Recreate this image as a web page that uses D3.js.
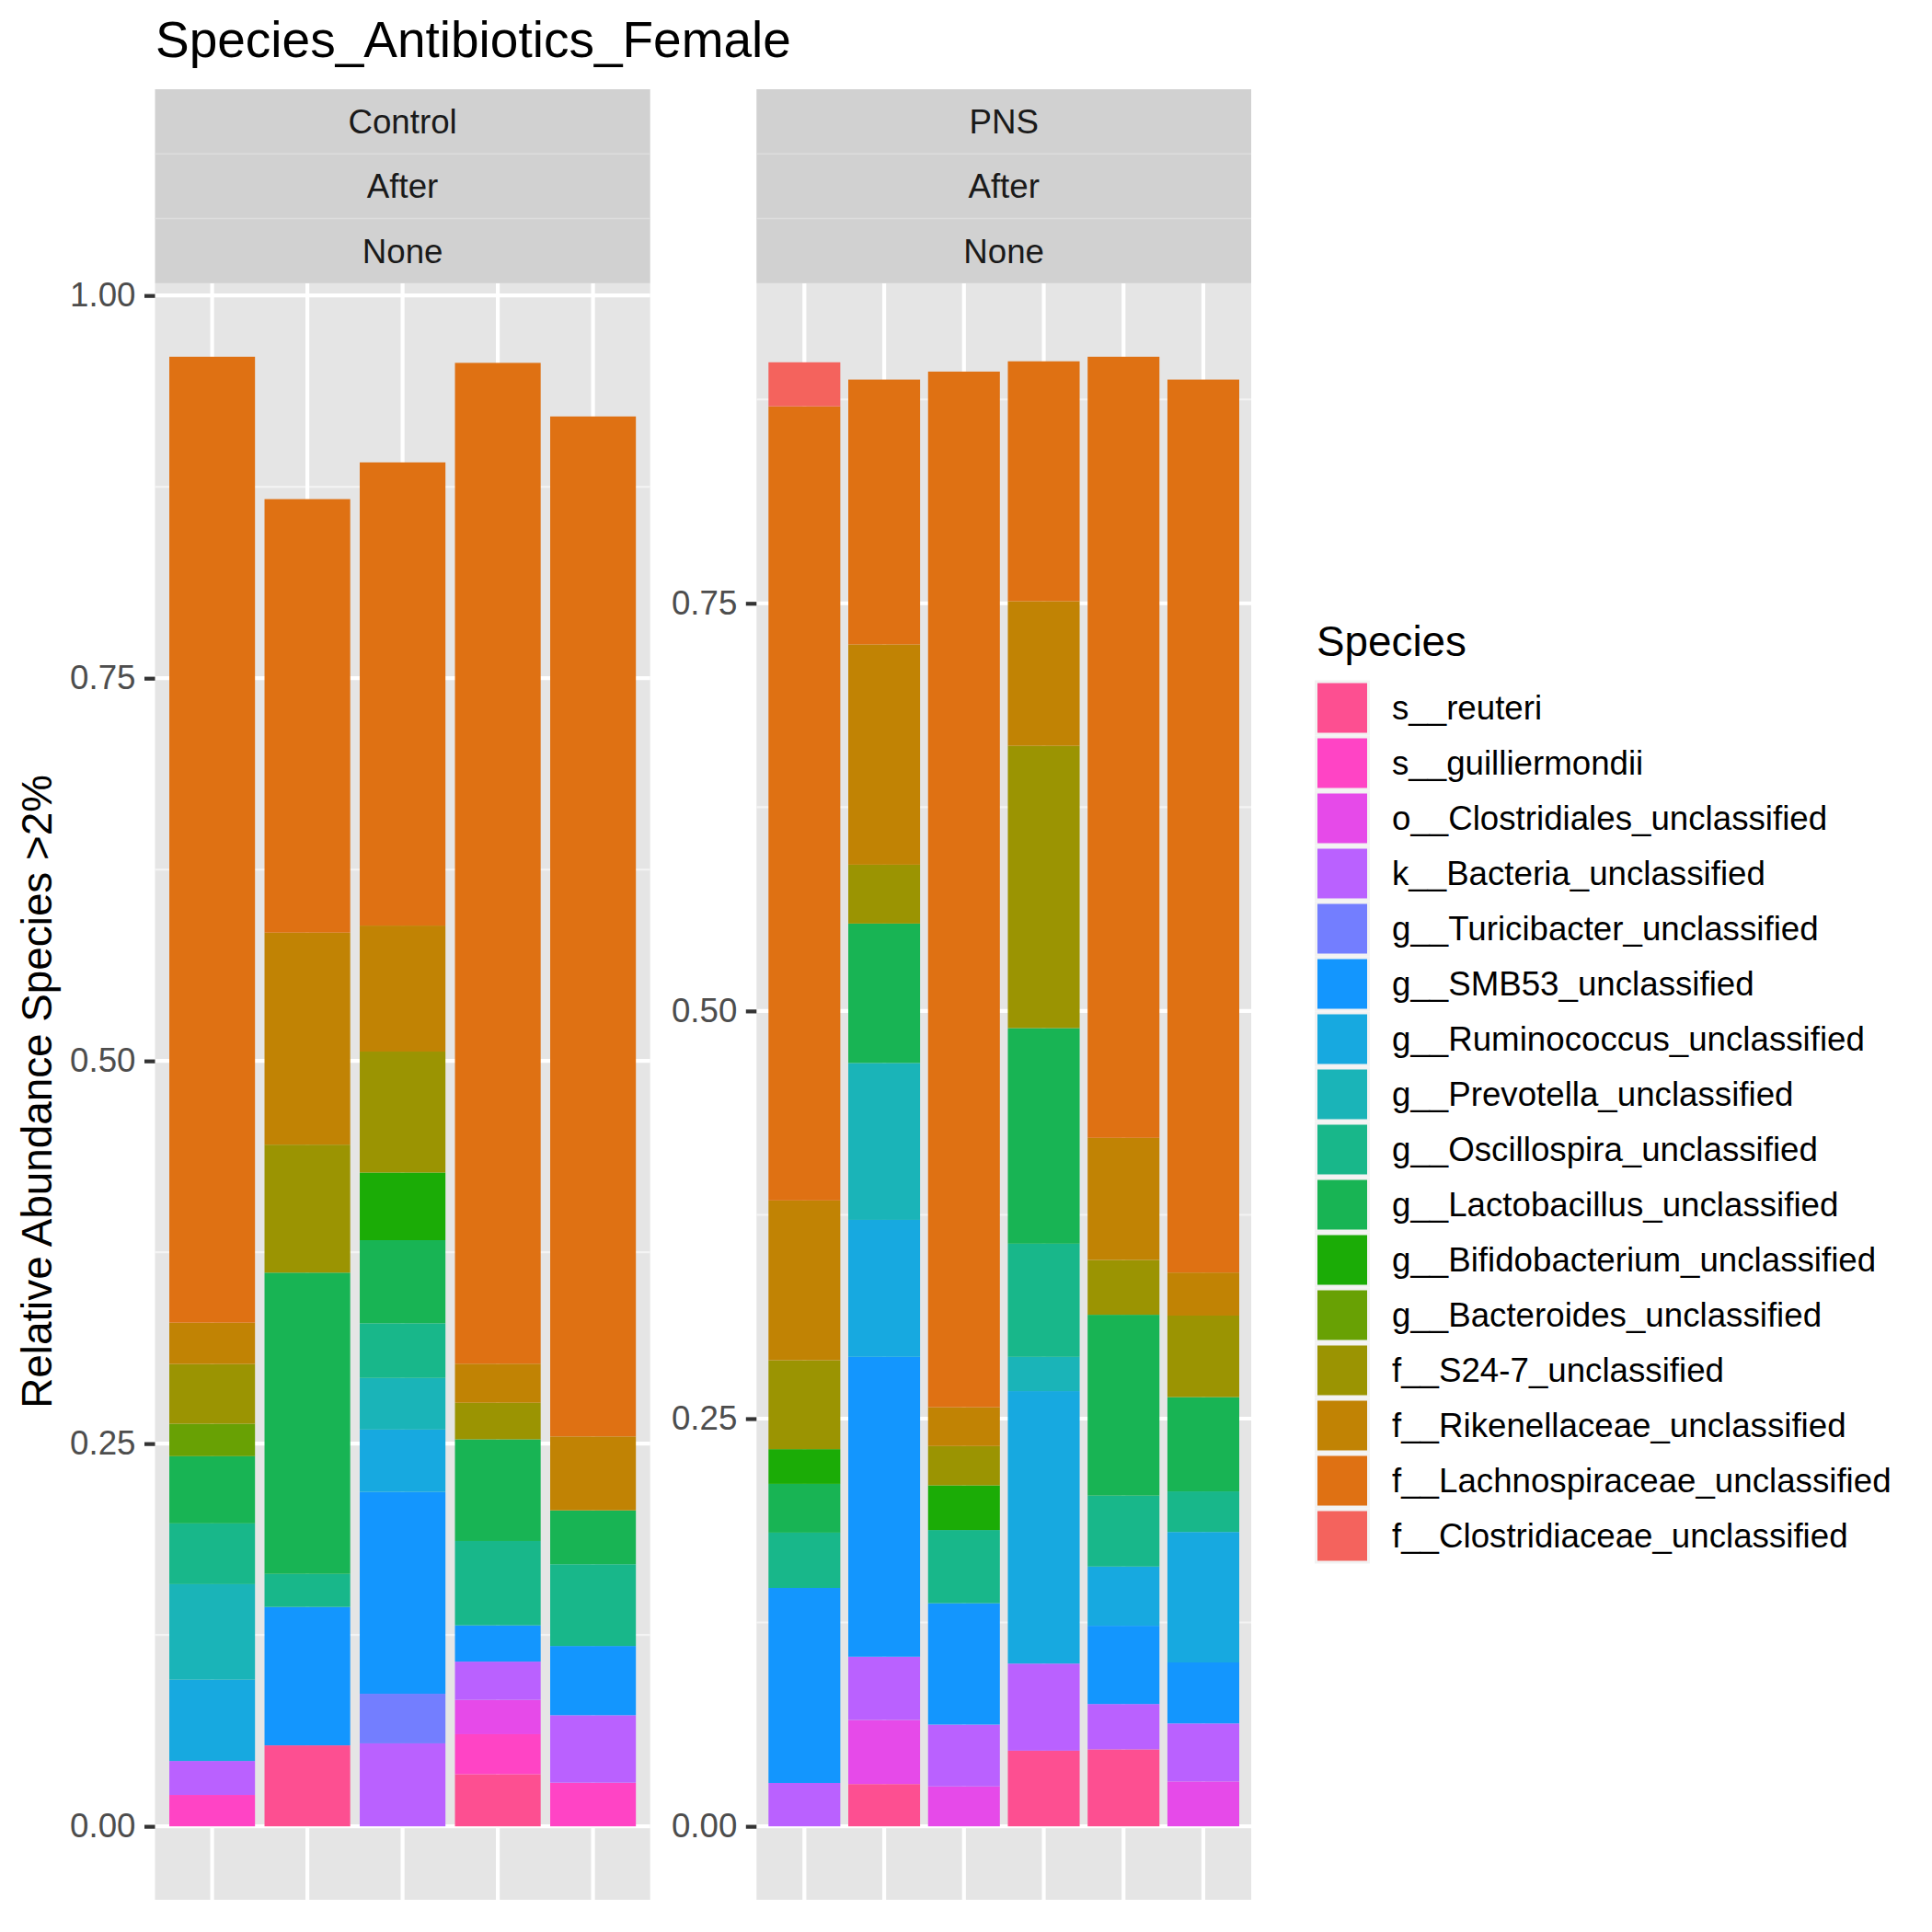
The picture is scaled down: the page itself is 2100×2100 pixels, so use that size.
<!DOCTYPE html>
<html>
<head>
<meta charset="utf-8">
<script src="https://d3js.org/d3.v7.min.js"></script>
<style>
	body { margin: 0; background: #ffffff; }
	text { font-family: "Liberation Sans", Arial, Helvetica, sans-serif; }
</style>
</head>
<body>
<div id="container"></div>
<script>

//species in legend order (first one sits at the bottom of each bar)
var species = [
	"s__reuteri",
	"s__guilliermondii",
	"o__Clostridiales_unclassified",
	"k__Bacteria_unclassified",
	"g__Turicibacter_unclassified",
	"g__SMB53_unclassified",
	"g__Ruminococcus_unclassified",
	"g__Prevotella_unclassified",
	"g__Oscillospira_unclassified",
	"g__Lactobacillus_unclassified",
	"g__Bifidobacterium_unclassified",
	"g__Bacteroides_unclassified",
	"f__S24-7_unclassified",
	"f__Rikenellaceae_unclassified",
	"f__Lachnospiraceae_unclassified",
	"f__Clostridiaceae_unclassified"
];

var speciesColors = [
	"#FD4F91", "#FF44C5", "#E64AE9", "#BA61FF", "#737EFF", "#1396FE",
	"#17A9E0", "#1AB4B8", "#18B78A", "#18B454", "#1BAC06", "#68A104",
	"#9B9402", "#C18304", "#DF7113", "#F4635D"
];

//strip labels of the two facets
var facetLabels = [
	["Control", "After", "None"],
	["PNS", "After", "None"]
];

//samples (x axis labels are blank in the original)
var controlSamples = ["C1", "C2", "C3", "C4", "C5"];
var pnsSamples = ["P1", "P2", "P3", "P4", "P5", "P6"];

//relative abundance per sample, one value per species (same order as species)
var controlValues = [
	[0, 0.0205, 0, 0.0222, 0, 0, 0.0531, 0.0624, 0.0397, 0.0439, 0, 0.0212, 0.039, 0.027, 0.631, 0],
	[0.0529, 0, 0, 0, 0, 0.0904, 0, 0, 0.0216, 0.1968, 0, 0, 0.0836, 0.1385, 0.2832, 0],
	[0, 0, 0, 0.0542, 0.0324, 0.1318, 0.0408, 0.0337, 0.0357, 0.0543, 0.0442, 0, 0.079, 0.0823, 0.3026, 0],
	[0.034, 0.0262, 0.0224, 0.025, 0, 0.0237, 0, 0, 0.0551, 0.0664, 0, 0, 0.0239, 0.0255, 0.6538, 0],
	[0, 0.0285, 0, 0.0441, 0, 0.0452, 0, 0, 0.0534, 0.0352, 0, 0, 0, 0.0483, 0.6663, 0]
];

var pnsValues = [
	[0, 0, 0, 0.0266, 0, 0.1196, 0, 0, 0.0339, 0.0299, 0.0213, 0, 0.0545, 0.098, 0.487, 0.027],
	[0.0259, 0, 0.0393, 0.0388, 0, 0.1839, 0.084, 0.0962, 0, 0.0855, 0, 0, 0.0361, 0.1351, 0.1624, 0],
	[0, 0, 0.0245, 0.0379, 0, 0.0744, 0, 0, 0.0449, 0, 0.0274, 0, 0.0241, 0.0238, 0.6351, 0],
	[0.0464, 0, 0, 0.0534, 0, 0, 0.1671, 0.021, 0.0694, 0.1322, 0, 0, 0.1731, 0.0887, 0.1471, 0],
	[0.0472, 0, 0, 0.0278, 0, 0.048, 0.0363, 0, 0.0435, 0.1109, 0, 0, 0.0336, 0.0749, 0.479, 0],
	[0, 0, 0.0275, 0.0356, 0, 0.0374, 0.08, 0, 0.0249, 0.0578, 0, 0, 0.05, 0.0264, 0.5476, 0]
];

var controlTicks = [0, 0.25, 0.5, 0.75, 1];
var pnsTicks = [0, 0.25, 0.5, 0.75];

var chartTitle = "Species_Antibiotics_Female";
var yTitle = "Relative Abundance Species >2%";
var legendTitle = "Species";

// layout (pixels)
var width = 2100, height = 2100;
var stripTop = 97, stripRow = 70.3;
var panelTop = stripTop + 3 * stripRow, panelBottom = 2065;
var panels = [
	{ x0: 168.5, x1: 706.7, samples: controlSamples, values: controlValues, ticks: controlTicks, labels: facetLabels[0] },
	{ x0: 822.3, x1: 1360, samples: pnsSamples, values: pnsValues, ticks: pnsTicks, labels: facetLabels[1] }
];

var color = d3.scaleOrdinal().domain(species).range(speciesColors);
var fmt = d3.format(".2f");

var svg = d3.select("#container").append("svg")
	.attr("width", width)
	.attr("height", height);

svg.append("rect").attr("width", width).attr("height", height).attr("fill", "#ffffff");

panels.forEach(function(p) { drawPanel(p); });

function drawPanel(p) {

	//turn the value rows into objects for d3.stack
	var rows = p.values.map(function(v, i) {
		var row = { sample: p.samples[i] };
		species.forEach(function(s, j) { row[s] = v[j]; });
		return row;
	});
	var series = d3.stack().keys(species)(rows);

	var maxTotal = d3.max(rows, function(r) { return d3.sum(species, function(s) { return r[s]; }); });
	var pad = maxTotal * 0.05;

	var x = d3.scaleBand().domain(p.samples).range([p.x0, p.x1])
		.paddingInner(0.1).paddingOuter(0.15);
	var y = d3.scaleLinear().domain([-pad, maxTotal + pad]).range([panelBottom, panelTop]);

	var g = svg.append("g");

	//strips
	p.labels.forEach(function(lab, i) {
		g.append("rect")
			.attr("x", p.x0).attr("y", stripTop + i * stripRow)
			.attr("width", p.x1 - p.x0).attr("height", stripRow)
			.attr("fill", "#D1D1D1");
		g.append("text")
			.attr("x", (p.x0 + p.x1) / 2)
			.attr("y", stripTop + (i + 0.5) * stripRow)
			.attr("dy", "0.35em")
			.style("text-anchor", "middle")
			.style("font-size", "36.7px")
			.style("fill", "#1A1A1A")
			.text(lab);
		if (i > 0) {
			g.append("line")
				.attr("x1", p.x0).attr("x2", p.x1)
				.attr("y1", stripTop + i * stripRow).attr("y2", stripTop + i * stripRow)
				.attr("stroke", "#DDDDDD").attr("stroke-width", 1.5);
		}
	});

	//panel background
	g.append("rect")
		.attr("x", p.x0).attr("y", panelTop)
		.attr("width", p.x1 - p.x0).attr("height", panelBottom - panelTop)
		.attr("fill", "#E5E5E5");

	//minor gridlines halfway between the majors
	var minor = [];
	for (var i = 0; i < p.ticks.length; i++) {
		var m = p.ticks[i] + 0.125;
		if (y(m) > panelTop) minor.push(m);
	}
	g.selectAll(".minor").data(minor).enter().append("line")
		.attr("x1", p.x0).attr("x2", p.x1)
		.attr("y1", function(d) { return y(d); }).attr("y2", function(d) { return y(d); })
		.attr("stroke", "#F4F4F4").attr("stroke-width", 2.1);

	g.selectAll(".hmajor").data(p.ticks).enter().append("line")
		.attr("x1", p.x0).attr("x2", p.x1)
		.attr("y1", function(d) { return y(d); }).attr("y2", function(d) { return y(d); })
		.attr("stroke", "#ffffff").attr("stroke-width", 4.2);

	g.selectAll(".vmajor").data(p.samples).enter().append("line")
		.attr("x1", function(d) { return x(d) + x.bandwidth() / 2; })
		.attr("x2", function(d) { return x(d) + x.bandwidth() / 2; })
		.attr("y1", panelTop).attr("y2", panelBottom)
		.attr("stroke", "#ffffff").attr("stroke-width", 4.2);

	//stacked bars
	g.selectAll(".layer").data(series).enter().append("g")
		.attr("fill", function(d) { return color(d.key); })
		.selectAll("rect").data(function(d) { return d; }).enter()
		.append("rect")
			.attr("x", function(d) { return x(d.data.sample); })
			.attr("width", x.bandwidth())
			.attr("y", function(d) { return y(d[1]); })
			.attr("height", function(d) { return Math.max(0, y(d[0]) - y(d[1])); });

	//y axis
	var axis = g.append("g")
		.attr("transform", "translate(" + p.x0 + ",0)")
		.call(d3.axisLeft(y).tickValues(p.ticks).tickFormat(fmt).tickSize(11.5).tickPadding(9.5));
	axis.select(".domain").remove();
	axis.selectAll(".tick line").attr("stroke", "#333333").attr("stroke-width", 4.2);
	axis.selectAll(".tick text")
		.style("font-size", "36.7px")
		.style("font-family", "'Liberation Sans', Arial, Helvetica, sans-serif")
		.attr("fill", "#4D4D4D");
}

//title
svg.append("text")
	.attr("x", 169).attr("y", 62)
	.style("font-size", "55px")
	.style("fill", "#000000")
	.text(chartTitle);

//y axis title
svg.append("text")
	.attr("transform", "translate(56," + (panelTop + panelBottom) / 2 + ") rotate(-90)")
	.style("text-anchor", "middle")
	.style("font-size", "45.8px")
	.style("fill", "#000000")
	.text(yTitle);

//legend
var legend = svg.append("g").attr("transform", "translate(1429,0)");
legend.append("text")
	.attr("x", 2).attr("y", 713)
	.style("font-size", "45.8px")
	.style("fill", "#000000")
	.text(legendTitle);

var keys = legend.selectAll(".key").data(species).enter().append("g")
	.attr("class", "key")
	.attr("transform", function(d, i) { return "translate(0," + (739.5 + i * 60) + ")"; });

keys.append("rect")
	.attr("width", 60).attr("height", 60)
	.attr("fill", "#F2F2F2");

keys.append("rect")
	.attr("x", 3).attr("y", 3)
	.attr("width", 54).attr("height", 54)
	.attr("fill", function(d) { return color(d); });

keys.append("text")
	.attr("x", 84).attr("y", 30)
	.attr("dy", "0.35em")
	.style("font-size", "36.7px")
	.style("fill", "#000000")
	.text(function(d) { return d; });

</script>
</body>
</html>
